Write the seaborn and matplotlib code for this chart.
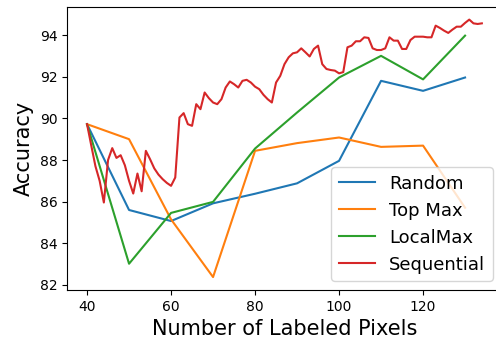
import matplotlib
matplotlib.use("Agg")
import matplotlib.pyplot as plt
import seaborn as sns
import pandas as pd

# Labeled-pixel budgets for the three batch strategies
budget = [40, 50, 60, 70, 80, 90, 100, 110, 120, 130]
random_acc = [89.72, 85.6, 85.07, 85.92, 86.38, 86.88, 87.96, 91.80, 91.32, 91.96]
topmax_acc = [89.72, 89.0, 85.15, 82.38, 88.44, 88.81, 89.08, 88.63, 88.69, 85.71]
localmax_acc = [89.72, 83.02, 85.46, 85.99, 88.55, 90.28, 91.96, 93.0, 91.87, 93.97]

# Sequential strategy adds one pixel at a time
seq_budget = list(range(40, 135))
seq_acc = [
    89.72, 88.7, 87.7, 87.0, 85.96, 88.0, 88.57, 88.1, 88.23, 87.75,
    87.0, 86.39, 87.35, 86.5, 88.44, 88.04, 87.6, 87.3, 87.08, 86.9,
    86.76, 87.16, 90.04, 90.25, 89.72, 89.64, 90.68, 90.44, 91.24, 90.97,
    90.76, 90.68, 90.92, 91.48, 91.77, 91.64, 91.48, 91.8, 91.85, 91.72,
    91.52, 91.4, 91.13, 90.92, 90.76, 91.72, 92.04, 92.6, 92.93, 93.12,
    93.17, 93.36, 93.17, 92.97, 93.33, 93.49, 92.6, 92.37, 92.32, 92.29,
    92.16, 92.22, 93.41, 93.49, 93.7, 93.7, 93.89, 93.86, 93.36, 93.28,
    93.28, 93.36, 93.89, 93.73, 93.73, 93.33, 93.33, 93.76, 93.92, 93.92,
    93.92, 93.89, 93.89, 94.45, 94.34, 94.21, 94.1, 94.26, 94.4, 94.4,
    94.58, 94.74, 94.56, 94.53, 94.56,
]

labels = ["Random", "Top Max", "LocalMax", "Sequential"]
colors = sns.color_palette("tab10", 4)

fig = plt.figure(figsize=(4.96, 3.41), dpi=100)
ax = fig.add_axes([0.1357, 0.1496, 0.8756, 0.8308])

series = [
    (budget, random_acc),
    (budget, topmax_acc),
    (budget, localmax_acc),
    (seq_budget, seq_acc),
]
for (xs, ys), name, col in zip(series, labels, colors):
    df = pd.DataFrame({"pixels": xs, "acc": ys})
    sns.lineplot(data=df, x="pixels", y="acc", color=col, label=name,
                 linewidth=1.5, ax=ax)

ax.set_xticks([40, 60, 80, 100, 120])
ax.set_yticks([82, 84, 86, 88, 90, 92, 94])
ax.set_xlim(35.3, 138.7)
ax.set_ylim(81.76, 95.36)
ax.set_xlabel("Number of Labeled Pixels", fontsize=15)
ax.set_ylabel("Accuracy", fontsize=15)
ax.legend(loc="lower right", fontsize=13)

fig.savefig("out.png", dpi=100)
